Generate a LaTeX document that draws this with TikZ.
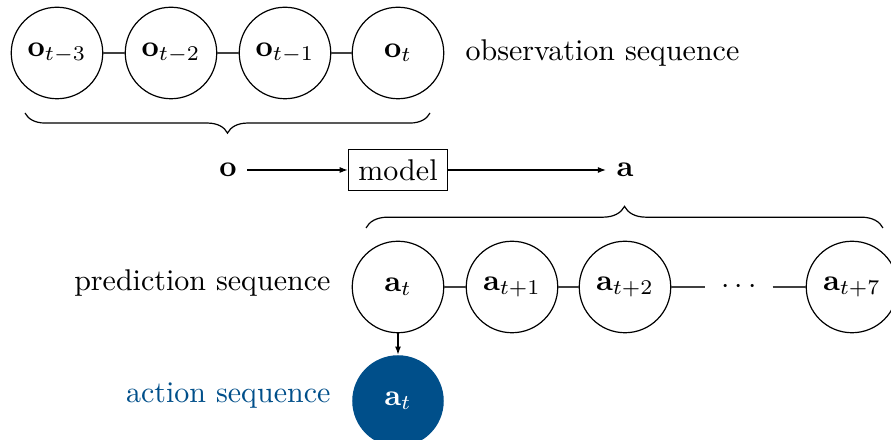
\documentclass[tikz,border=0pt]{standalone}
\usetikzlibrary{arrows.meta,decorations.pathreplacing}
\definecolor{actblue}{RGB}{0,79,138}
\begin{document}
\begin{tikzpicture}[x=0.3333pt,y=-0.3333pt,
  state/.style={circle,draw=black,fill=white,line width=0.4pt,minimum size=30.5pt,inner sep=0pt},
  action/.style={circle,fill=actblue,text=white,minimum size=30.5pt,inner sep=0pt},
  link/.style={draw=black!75,line width=0.45pt},
  flow/.style={draw=black,line width=0.4pt,-{Latex[length=2.7pt,width=2pt]}},
  bracket/.style={draw=black,line width=0.4pt,decorate},
  label/.style={inner sep=0pt}]
  % background
  \useasboundingbox (0,0) rectangle (891,440);
  \shade[top color=white,middle color=black!7,bottom color=white] (0,0) rectangle (891,440);

  % observation sequence
  \node[state] (o3) at (57,53)  {$\mathbf{o}_{t-3}$};
  \node[state] (o2) at (171,53) {$\mathbf{o}_{t-2}$};
  \node[state] (o1) at (285,53) {$\mathbf{o}_{t-1}$};
  \node[state] (o0) at (398,53) {$\mathbf{o}_{t}$};
  \draw[link] (o3) -- (o2);
  \draw[link] (o2) -- (o1);
  \draw[link] (o1) -- (o0);
  \node[label,anchor=west] (obslbl) at (465,53) {observation sequence};

  \coordinate (ob1) at (430,113);
  \coordinate (ob2) at (25,113);
  \draw[bracket,decoration={brace,amplitude=6.7pt}] (ob1) -- (ob2);

  % model
  \node (o) at (228,170) {$\mathbf{o}$};
  \node[draw=black,fill=white,line width=0.4pt] (model) at (398,170) {model};
  \node (a) at (625,170) {$\mathbf{a}$};
  \draw[flow] (o) -- (model);
  \draw[flow] (model) -- (a);

  \coordinate (ab1) at (366,228);
  \coordinate (ab2) at (883,228);
  \draw[bracket,decoration={brace,amplitude=7.2pt}] (ab1) -- (ab2);

  % prediction sequence
  \node[state] (a0) at (398,287) {$\mathbf{a}_{t}$};
  \node[state] (a1) at (512,287) {$\mathbf{a}_{t+1}$};
  \node[state] (a2) at (625,287) {$\mathbf{a}_{t+2}$};
  \node[inner sep=0pt,minimum width=22pt] (dots) at (739,287) {$\cdots$};
  \node[state] (a7) at (852,287) {$\mathbf{a}_{t+7}$};
  \draw[link] (a0) -- (a1);
  \draw[link] (a1) -- (a2);
  \draw[link] (a2) -- (dots);
  \draw[link] (dots) -- (a7);
  \node[label,anchor=east] (predlbl) at (331,283) {prediction sequence};

  % action sequence
  \node[action] (act) at (398,401) {$\mathbf{a}_{t}$};
  \draw[flow] (a0) -- (act);
  \node[label,anchor=east,text=actblue] (actlbl) at (331,396) {action sequence};
\end{tikzpicture}
\end{document}
